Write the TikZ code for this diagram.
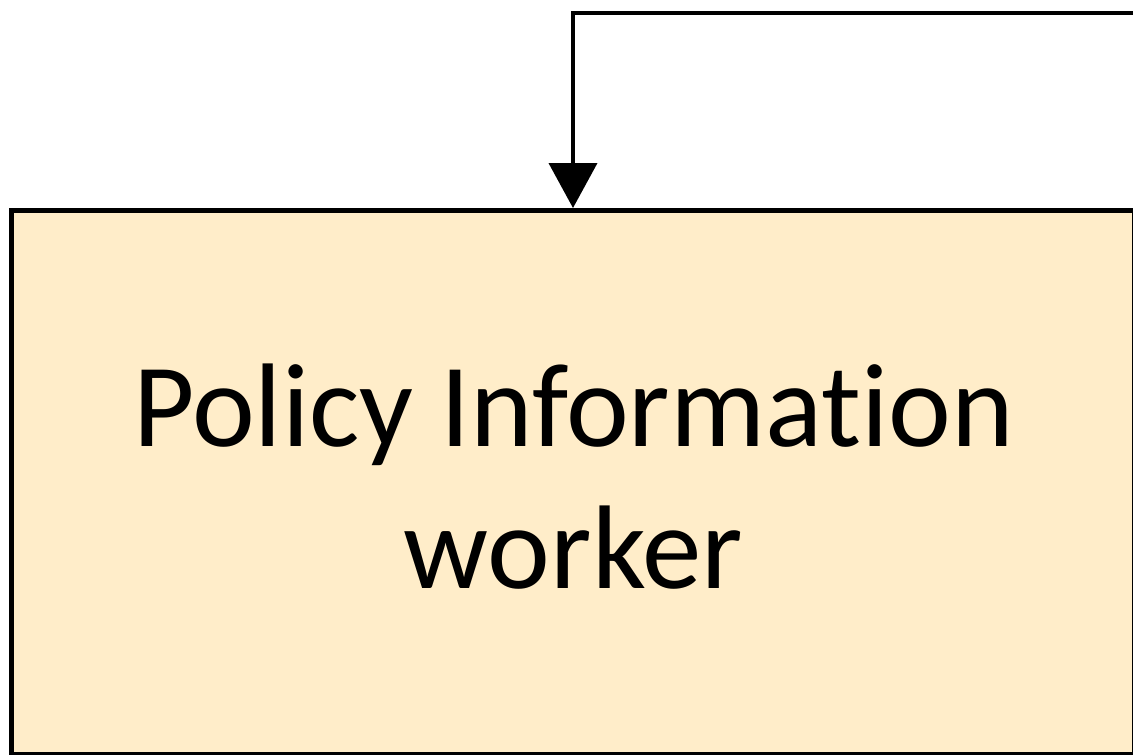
\documentclass[tikz,border=0pt]{standalone}
\usepackage{fontspec}
\setmainfont{Carlito}[Ligatures={NoCommon}]
\usetikzlibrary{arrows.meta}
\definecolor{boxfill}{HTML}{FFEDC9}
\tikzset{
  workerbox/.style={draw=black, line width=5pt, fill=boxfill, rectangle, inner sep=0pt},
  flow/.style={draw=black, line width=4pt, -{Triangle[length=45pt,width=48pt]}},
  boxtext/.style={font=\fontsize{119pt}{142pt}\selectfont, align=center, inner sep=0pt}
}
\begin{document}
\begin{tikzpicture}[x=1pt,y=-1pt]
\useasboundingbox (0,0) rectangle (1133,755);
\clip (0,0) rectangle (1133,755);
\node[workerbox, minimum width=1123pt, minimum height=543.5pt] (box) at (572.5,482.25) {};
\node[boxtext, anchor=base] (lbl) at (573.5,588) {Policy Information\\worker};
\coordinate (src) at (1140,13);
\coordinate (bend) at (573,13);
\draw[flow] (src) -- (bend) -- (bend |- box.north);
\end{tikzpicture}
\end{document}
